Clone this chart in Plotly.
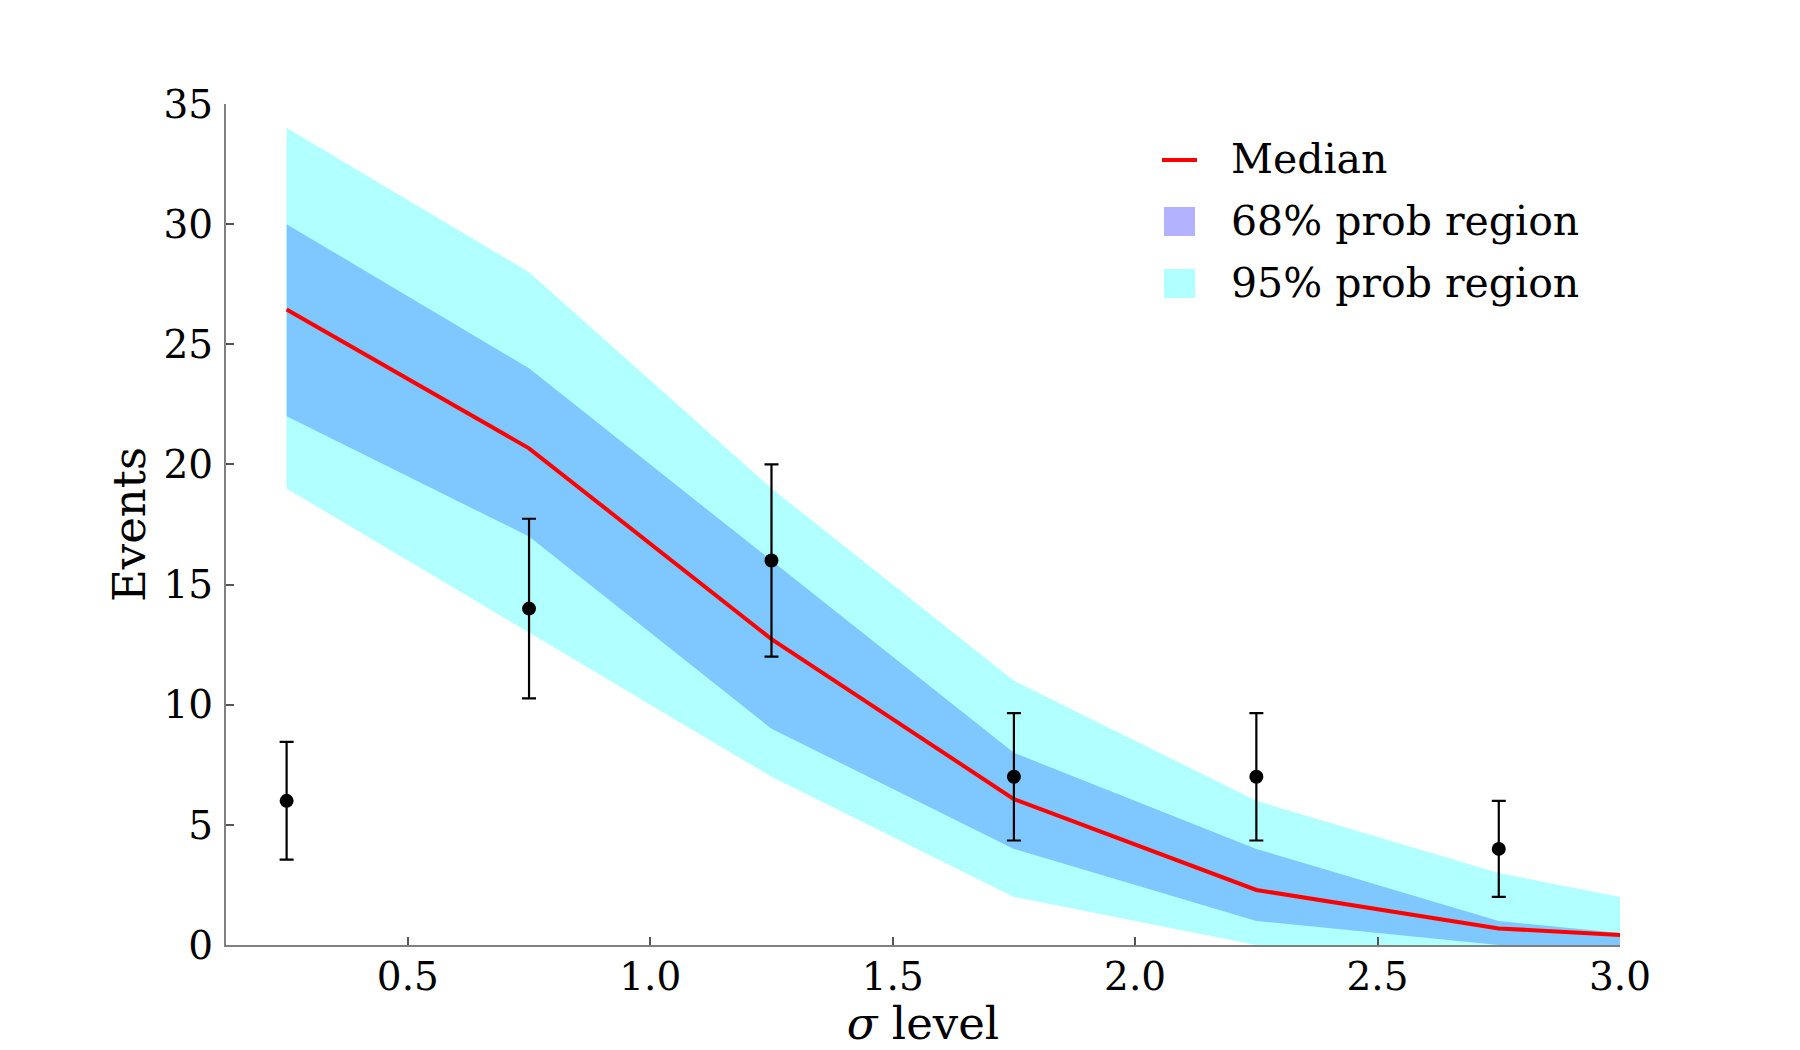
import plotly.graph_objects as go

# ---- data ----
band_x = [0.25, 0.75, 1.25, 1.75, 2.25, 2.75, 3.0]
median = [26.45, 20.67, 12.73, 6.07, 2.29, 0.69, 0.42]
p68_low = [22, 17, 9, 4, 1, 0, 0]
p68_high = [30, 24, 16, 8, 4, 1, 0.5]
p95_low = [19, 13, 7, 2, 0, 0, 0]
p95_high = [34, 28, 19, 11, 6, 3, 2]

obs_x = [0.25, 0.75, 1.25, 1.75, 2.25, 2.75]
obs_y = [6, 14, 16, 7, 7, 4]
obs_err = [2.45, 3.74, 4.0, 2.65, 2.65, 2.0]

x_ticks = [0.5, 1.0, 1.5, 2.0, 2.5, 3.0]
x_ticklabels = ["0.5", "1.0", "1.5", "2.0", "2.5", "3.0"]
y_ticks = [0, 5, 10, 15, 20, 25, 30, 35]

legend_labels = ["Median", "68% prob region", "95% prob region"]

FONT = "DejaVu Serif"
C95 = "#B2FFFF"
C68 = "#7FC8FF"
C68_LEG = "#B2B2FF"
CMED = "#FF0000"

W, H = 1800, 1050
ML, MR, MT, MB = 226, 180, 104, 105
PW, PH = W - ML - MR, H - MT - MB


def px_x(px):
    return (px - ML) / PW


def px_y(py):
    return (H - MB - py) / PH


fig = go.Figure()

# 95% band
fig.add_trace(go.Scatter(x=band_x, y=p95_low, mode="lines", line=dict(width=0),
                         showlegend=False, hoverinfo="skip"))
fig.add_trace(go.Scatter(x=band_x, y=p95_high, mode="lines", line=dict(width=0),
                         fill="tonexty", fillcolor=C95, showlegend=False))
# 68% band
fig.add_trace(go.Scatter(x=band_x, y=p68_low, mode="lines", line=dict(width=0),
                         showlegend=False, hoverinfo="skip"))
fig.add_trace(go.Scatter(x=band_x, y=p68_high, mode="lines", line=dict(width=0),
                         fill="tonexty", fillcolor=C68, showlegend=False))
# median
fig.add_trace(go.Scatter(x=band_x, y=median, mode="lines",
                         line=dict(color=CMED, width=4), showlegend=False))
# observed points
fig.add_trace(go.Scatter(x=obs_x, y=obs_y, mode="markers",
                         marker=dict(color="black", size=14),
                         error_y=dict(type="data", array=obs_err, color="black",
                                      thickness=2.2, width=7),
                         showlegend=False))

# ---- hand-drawn legend (square swatches as in the reference) ----
shapes = [
    dict(type="line", xref="paper", yref="paper",
         x0=px_x(1162), x1=px_x(1197), y0=px_y(160), y1=px_y(160),
         line=dict(color=CMED, width=4)),
    dict(type="rect", xref="paper", yref="paper",
         x0=px_x(1164), x1=px_x(1195), y0=px_y(207), y1=px_y(236),
         fillcolor=C68_LEG, line=dict(width=0)),
    dict(type="rect", xref="paper", yref="paper",
         x0=px_x(1164), x1=px_x(1195), y0=px_y(269), y1=px_y(298),
         fillcolor=C95, line=dict(width=0)),
]
legend_y = [159, 221, 283]
annotations = [
    dict(text=lab, xref="paper", yref="paper", x=px_x(1229), y=px_y(yy),
         xanchor="left", yanchor="middle", showarrow=False,
         font=dict(family=FONT, size=41, color="black"))
    for lab, yy in zip(legend_labels, legend_y)
]

axis_common = dict(
    showgrid=False, zeroline=False, showline=True, linecolor="#808080",
    linewidth=2, ticks="inside", ticklen=8, tickwidth=1.5, tickcolor="#555555",
    tickfont=dict(family=FONT, size=39, color="black"),
    mirror=False, automargin=False,
)

fig.update_layout(
    width=W, height=H,
    margin=dict(l=ML, r=MR, t=MT, b=MB),
    paper_bgcolor="white", plot_bgcolor="white",
    font=dict(family=FONT, color="black"),
    xaxis=dict(range=[0.125, 3.0], tickvals=x_ticks, ticktext=x_ticklabels,
               title=dict(text="<i>σ</i> level", font=dict(family=FONT, size=45),
                          standoff=3),
               ticklabelstandoff=-4, **axis_common),
    yaxis=dict(range=[0, 35], tickvals=y_ticks,
               title=dict(text="Events", font=dict(family=FONT, size=45),
                          standoff=4),
               ticklabelstandoff=3, **axis_common),
    shapes=shapes,
    annotations=annotations,
    showlegend=False,
)

fig.write_html("out.html")
